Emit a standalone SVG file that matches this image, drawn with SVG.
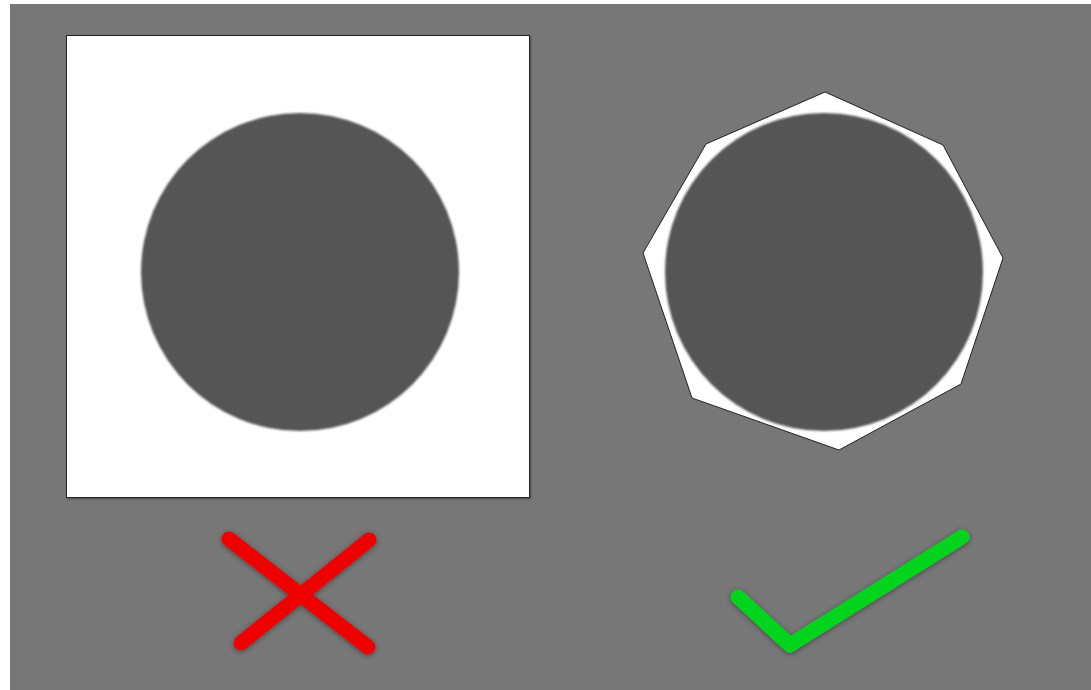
<svg xmlns="http://www.w3.org/2000/svg" width="1091" height="690" viewBox="0 0 1091 690">
  <defs>
    <filter id="soft" x="-10%" y="-10%" width="120%" height="120%">
      <feGaussianBlur stdDeviation="0.9"/>
    </filter>
    <filter id="shadow" x="-20%" y="-20%" width="140%" height="140%">
      <feGaussianBlur in="SourceAlpha" stdDeviation="2.5"/>
      <feOffset dx="0" dy="1" result="b"/>
      <feFlood flood-color="#333" flood-opacity="0.8"/>
      <feComposite in2="b" operator="in" result="s"/>
      <feMerge><feMergeNode in="s"/><feMergeNode in="SourceGraphic"/></feMerge>
    </filter>
    <filter id="boxshadow" x="-5%" y="-5%" width="110%" height="110%">
      <feGaussianBlur in="SourceAlpha" stdDeviation="1"/>
      <feOffset dx="1" dy="1" result="b"/>
      <feFlood flood-color="#000" flood-opacity="0.4"/>
      <feComposite in2="b" operator="in" result="s"/>
      <feMerge><feMergeNode in="s"/><feMergeNode in="SourceGraphic"/></feMerge>
    </filter>
  </defs>
  <style>
    .disk { fill: #555555; }
    .mark { fill: none; stroke-width: 15; stroke-linecap: round; stroke-linejoin: round; }
  </style>
  <rect x="0" y="0" width="1091" height="690" fill="#ffffff"/>
  <rect x="10" y="4" width="1081" height="686" fill="#777777"/>
  <g id="left-node">
    <rect x="66.5" y="35.5" width="463" height="462" fill="#ffffff" stroke="#222" stroke-width="1" filter="url(#boxshadow)"/>
    <circle class="disk" cx="300" cy="272" r="159" filter="url(#soft)"/>
  </g>
  <g id="right-node">
    <polygon points="825,92 943,145 1003,258 961,384 839,450 692,398 643,253 706,144" fill="#ffffff" stroke="#222" stroke-width="1"/>
    <circle class="disk" cx="824" cy="272" r="159" filter="url(#soft)"/>
  </g>
  <g id="cross" filter="url(#shadow)">
    <line class="mark" x1="229" y1="539" x2="368" y2="647" stroke="#ee0000"/>
    <line class="mark" x1="369" y1="540" x2="241" y2="643" stroke="#ee0000"/>
  </g>
  <g id="check" filter="url(#shadow)">
    <polyline class="mark" points="738,597 790,645 962,537" stroke="#00d41f"/>
  </g>
</svg>
